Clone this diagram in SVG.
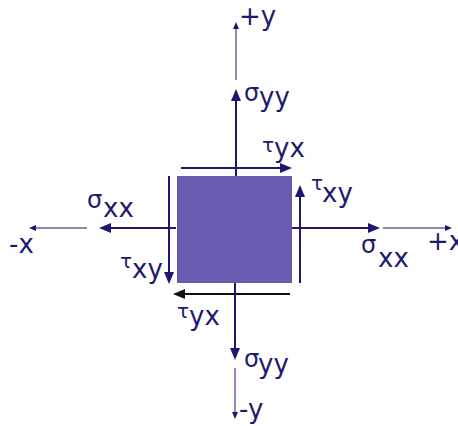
<svg xmlns="http://www.w3.org/2000/svg" width="458" height="426" viewBox="0 0 458 426">
<style>
.thick{stroke:#1c1870;stroke-width:2;fill:none;marker-end:url(#ah)}
.blk{stroke:#111;stroke-width:2;fill:none;marker-end:url(#ahb)}
.thin{stroke:#1c1870;stroke-width:1;fill:none;marker-end:url(#at)}
text{font-family:"DejaVu Sans",sans-serif;fill:#1e1a6e;font-size:26px}
.g{font-size:24px}
.t{font-size:20px}
</style>
<defs>
<marker id="ah" markerUnits="userSpaceOnUse" markerWidth="12" markerHeight="10" refX="1" refY="5" orient="auto"><path d="M0,0 L12,5 L0,10 z" fill="#1c1870"/></marker>
<marker id="ahb" markerUnits="userSpaceOnUse" markerWidth="12" markerHeight="10" refX="1" refY="5" orient="auto"><path d="M0,0 L12,5 L0,10 z" fill="#111"/></marker>
<marker id="at" markerUnits="userSpaceOnUse" markerWidth="7" markerHeight="6" refX="1" refY="3" orient="auto"><path d="M0,0 L7,3 L0,6 z" fill="#1c1870"/></marker>
</defs>
<g id="element"><rect x="177" y="176" width="115" height="107" fill="#6a5bb0"/></g>
<g id="connectors">
<line class="thin" x1="236" y1="80" x2="236" y2="28"/>
<line class="thick" x1="236" y1="176" x2="236" y2="100"/>
<line class="thick" x1="181" y1="168" x2="281" y2="168"/>
<line class="thick" x1="176" y1="228" x2="110" y2="228"/>
<line class="thin" x1="87" y1="228" x2="35" y2="228"/>
<line class="thick" x1="169" y1="176" x2="169" y2="273"/>
<line class="blk" x1="290" y1="294" x2="184" y2="294"/>
<line class="thick" x1="235" y1="283" x2="235" y2="349"/>
<line class="thin" x1="235" y1="368" x2="235" y2="413"/>
<line class="thick" x1="300" y1="283" x2="300" y2="196"/>
<line class="thick" x1="292" y1="228" x2="369" y2="228"/>
<line class="thin" x1="383" y1="228" x2="446" y2="228"/>
</g>
<g id="labels">
<text x="239" y="25">+y</text>
<text id="sigma-yy-top" x="244" y="101"><tspan class="g">σ</tspan><tspan x="259" y="106">yy</tspan></text>
<text id="tau-yx-top" x="262" y="152"><tspan class="t">τ</tspan><tspan x="274" y="157">yx</tspan></text>
<text id="sigma-xx-left" x="87" y="208"><tspan class="g">σ</tspan><tspan x="103" y="217">xx</tspan></text>
<text x="9" y="253">-x</text>
<text id="tau-xy-left" x="120" y="268"><tspan class="t">τ</tspan><tspan x="132" y="278">xy</tspan></text>
<text id="tau-yx-bottom" x="177" y="318"><tspan class="t">τ</tspan><tspan x="189" y="325">yx</tspan></text>
<text id="sigma-yy-bottom" x="244" y="367"><tspan class="g">σ</tspan><tspan x="258" y="373">yy</tspan></text>
<text x="239" y="418">-y</text>
<text id="tau-xy-right" x="311" y="190"><tspan class="t">τ</tspan><tspan x="322" y="202">xy</tspan></text>
<text id="sigma-xx-right" x="361" y="253"><tspan class="g">σ</tspan><tspan x="378" y="267">xx</tspan></text>
<text x="427" y="250">+x</text>
</g>
</svg>
